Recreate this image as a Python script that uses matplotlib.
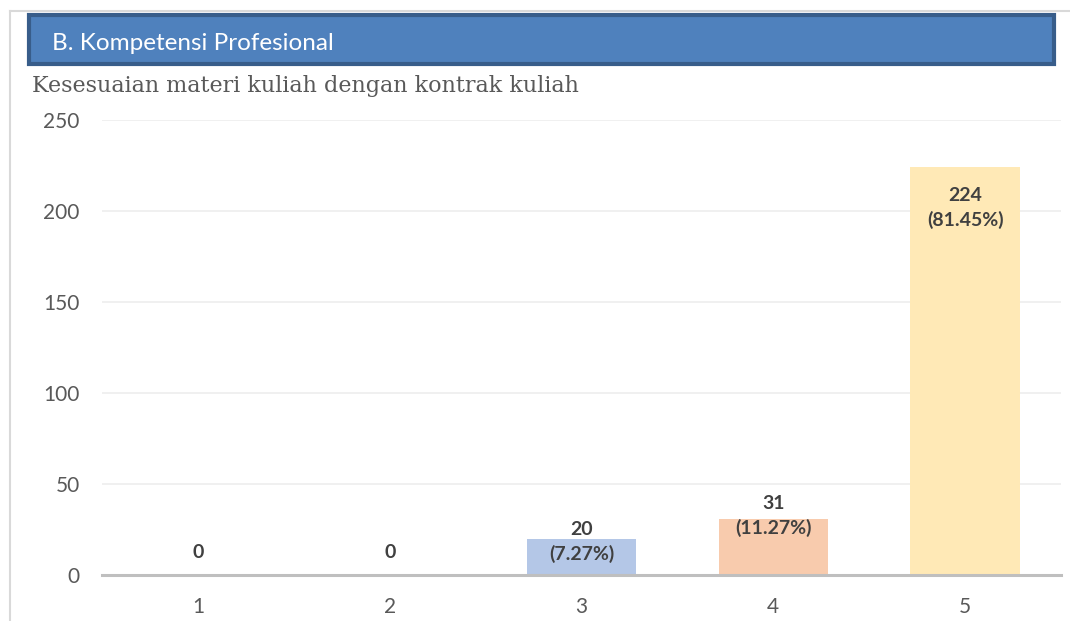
import matplotlib.pyplot as plt
from matplotlib.patches import Rectangle
from matplotlib.lines import Line2D

# data
categories = ['1', '2', '3', '4', '5']
counts = [0, 0, 20, 31, 224]
percents = [None, None, '7.27%', '11.27%', '81.45%']
colors = ['#B4C7E7', '#B4C7E7', '#B4C7E7', '#F8CBAD', '#FFE9B6']
# label centre offset from the bar top, in points (excel puts them oddly)
label_offset = [16.5, 16.5, -2.5, 2, -29]

plt.rcParams['font.family'] = ['Lato', 'DejaVu Sans']

fig = plt.figure(figsize=(10.7, 6.21), dpi=100)
W, H = 1070, 621

# outer frame lines (top and left)
fig.add_artist(Line2D([10 / W, 1], [1 - 11 / H, 1 - 11 / H], color='#D9D9D9', lw=1.5))
fig.add_artist(Line2D([10 / W, 10 / W], [0, 1 - 11 / H], color='#D9D9D9', lw=1.5))

# blue header box
fig.add_artist(Rectangle((29 / W, 1 - 64 / H), 1025 / W, 49 / H,
                         facecolor='#4F81BD', edgecolor='#385D8A', lw=3))
fig.text(52 / W, 1 - 44 / H, 'B. Kompetensi Profesional', color='white',
         fontsize=17.5, va='center', ha='left')

fig.text(32 / W, 1 - 86 / H, 'Kesesuaian materi kuliah dengan kontrak kuliah',
         color='#595959', fontsize=16, va='center', ha='left',
         family='DejaVu Serif')

ax = fig.add_axes([102 / W, 46 / H, 959 / W, 455 / H])
x = range(1, len(categories) + 1)
ax.bar(x, counts, width=0.57, color=colors, zorder=2)

for xi, c, p, off in zip(x, counts, percents, label_offset):
    txt = str(c) if p is None else '%d\n(%s)' % (c, p)
    ax.annotate(txt, (xi, c), xytext=(0, off), textcoords='offset points',
                ha='center', va='center', fontsize=14, fontweight='bold',
                color='#404040', linespacing=1.45, zorder=3)

ax.set_xlim(0.5, 5.5)
ax.set_ylim(0, 250)
ax.set_yticks([0, 50, 100, 150, 200, 250])
ax.set_xticks(list(x))
ax.set_xticklabels(categories)
ax.grid(axis='y', color='#EEEEEE', lw=1.2, zorder=0)
for s in ['top', 'right', 'left']:
    ax.spines[s].set_visible(False)
ax.spines['bottom'].set_color('#BFBFBF')
ax.spines['bottom'].set_linewidth(2.2)
ax.tick_params(length=0, labelsize=15, labelcolor='#595959')
ax.tick_params(axis='y', pad=16)
ax.tick_params(axis='x', pad=16)

plt.savefig('out.png', dpi=100)
